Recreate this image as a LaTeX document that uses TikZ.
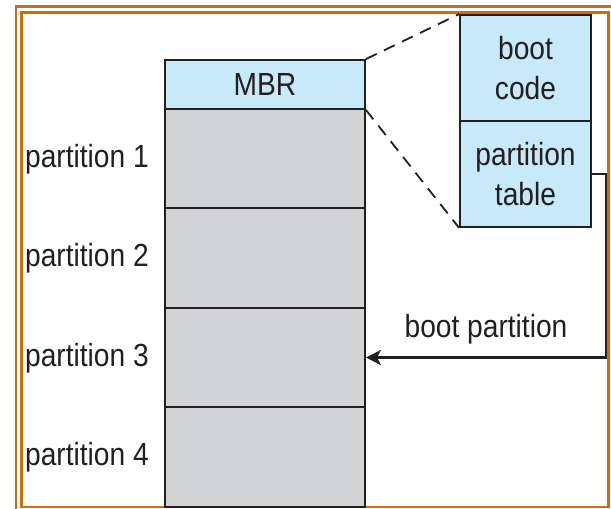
\documentclass[tikz,border=0pt]{standalone}
\usepackage{fontspec}
\setmainfont{Liberation Sans}[FakeStretch=0.88]
\usetikzlibrary{arrows.meta}
\definecolor{mbrblue}{RGB}{199,233,249}
\definecolor{diskgray}{RGB}{209,211,212}
\definecolor{frameorange}{RGB}{208,108,16}
\definecolor{ink}{RGB}{35,31,32}
\tikzset{
  blockbox/.style={draw=ink, line width=1.8pt, inner sep=0pt, minimum width=200pt,
    text=ink, font=\fontsize{32}{32}\selectfont},
  mbrbox/.style={blockbox, fill=mbrblue, minimum height=49pt},
  partbox/.style={blockbox, fill=diskgray, minimum height=99.5pt},
  detailbox/.style={blockbox, fill=mbrblue, minimum width=131pt, minimum height=106pt,
    align=center, font=\fontsize{32}{40}\selectfont},
  sidelabel/.style={inner sep=0pt, text=ink, font=\fontsize{32}{32}\selectfont},
  zoomline/.style={draw=ink, line width=1.8pt, dash pattern=on 12pt off 8pt},
  pointer/.style={draw=ink, line width=2.8pt, -{Stealth[length=15pt,width=15pt,inset=4pt]}},
  frame/.style={draw=frameorange, line width=2.2pt}
}
\begin{document}
\begin{tikzpicture}[x=1pt,y=-1pt]
  \useasboundingbox (0,0) rectangle (611,509);
  % double frame
  \begin{scope}
    \clip (0,0) rectangle (611,509);
    \draw[frame] (16,6.5) rectangle (640,540);
    \draw[frame] (21.5,12.5) rectangle (608.5,507);
  \end{scope}

  % disk layout
  \node[mbrbox]  (mbr) at (265,84.5)  {MBR};
  \node[partbox] (p1)  at (265,158.5) {};
  \node[partbox] (p2)  at (265,258)   {};
  \node[partbox] (p3)  at (265,357.5) {};
  \node[partbox] (p4)  at (265,457)   {};

  % partition labels
  \node[sidelabel, anchor=base east] (l1) at (149,167) {partition 1};
  \node[sidelabel, anchor=base east] (l2) at (149,266) {partition 2};
  \node[sidelabel, anchor=base east] (l3) at (149,366) {partition 3};
  \node[sidelabel, anchor=base east] (l4) at (149,465) {partition 4};

  % MBR detail
  \node[detailbox] (bc) at (525.5,68)  {boot\\code};
  \node[detailbox] (pt) at (525.5,174) {partition\\table};

  \draw[zoomline] (mbr.north east) -- (bc.north west);
  \draw[zoomline] (mbr.south east) -- (pt.south west);

  % boot partition pointer
  \coordinate (turn) at (606,174);
  \draw[pointer] (pt.east) -- (turn) |- (p3.east);
  \node[sidelabel, anchor=base] (bl) at (486,337) {boot partition};
\end{tikzpicture}
\end{document}
